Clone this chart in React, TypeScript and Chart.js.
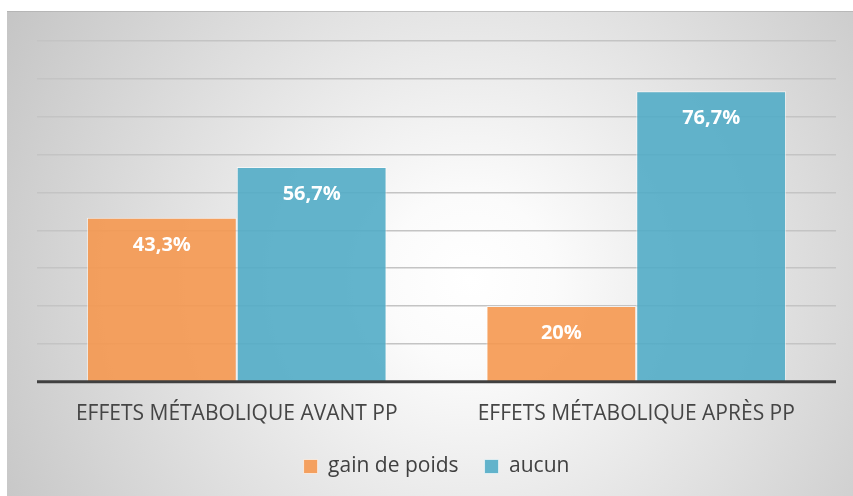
import React, { useEffect, useRef } from "react";
import { Chart, registerables } from "chart.js";

Chart.register(...registerables);

const categories: string[] = ["EFFETS MÉTABOLIQUE AVANT PP", "EFFETS MÉTABOLIQUE APRÈS PP"];
const seriesNames: string[] = ["gain de poids", "aucun"];
const gainDePoids: number[] = [43.3, 20];
const aucun: number[] = [56.7, 76.7];
const yMax = 90;
const yStep = 10;

const fmt = (v: number) => (Number.isInteger(v) ? String(v) : v.toFixed(1).replace(".", ",")) + "%";

const bgPlugin = {
  id: "bgPlugin",
  beforeDraw(chart: any) {
    const { ctx, width, height } = chart;
    ctx.save();
    ctx.fillStyle = "#ffffff";
    ctx.fillRect(0, 0, width, height);
    const g = ctx.createRadialGradient(470, 280, 0, 470, 280, 560);
    g.addColorStop(0, "#ffffff");
    g.addColorStop(0.15, "#fbfbfb");
    g.addColorStop(1, "#c2c2c2");
    ctx.fillStyle = g;
    ctx.fillRect(7, 11, width - 7, height - 11);
    ctx.strokeStyle = "rgba(170,170,170,0.6)";
    ctx.lineWidth = 1;
    ctx.beginPath();
    ctx.moveTo(7, 11.5);
    ctx.lineTo(width, 11.5);
    ctx.stroke();
    ctx.restore();
  },
  afterDatasetsDraw(chart: any) {
    const { ctx, chartArea } = chart;
    const yScale = chart.scales.y;
    const y0 = yScale.getPixelForValue(0);
    ctx.save();
    ctx.strokeStyle = "#404040";
    ctx.lineWidth = 3;
    ctx.beginPath();
    ctx.moveTo(chartArea.left, y0);
    ctx.lineTo(chartArea.right, y0);
    ctx.stroke();
    ctx.fillStyle = "#ffffff";
    ctx.font = "bold 20px 'Open Sans'";
    ctx.textAlign = "center";
    ctx.textBaseline = "middle";
    chart.data.datasets.forEach((ds: any, di: number) => {
      const meta = chart.getDatasetMeta(di);
      meta.data.forEach((el: any, i: number) => {
        ctx.fillText(fmt(ds.data[i]), el.x, el.y + 27);
      });
    });
    ctx.restore();
  },
};

export default function App() {
  const ref = useRef<HTMLCanvasElement | null>(null);
  useEffect(() => {
    if (!ref.current) return;
    const chart = new Chart(ref.current, {
      type: "bar",
      data: {
        labels: categories,
        datasets: [
          {
            label: seriesNames[0],
            data: gainDePoids,
            backgroundColor: "rgba(245,152,80,0.9)",
            borderColor: "rgba(255,255,255,0.6)",
            borderWidth: 1,
          },
          {
            label: seriesNames[1],
            data: aucun,
            backgroundColor: "rgba(82,172,199,0.9)",
            borderColor: "rgba(255,255,255,0.6)",
            borderWidth: 1,
          },
        ],
      },
      options: {
        animation: false,
        responsive: false,
        devicePixelRatio: 1,
        layout: { padding: { left: 37, right: 17, top: 41, bottom: 9 } },
        datasets: { bar: { categoryPercentage: 0.75, barPercentage: 1 } },
        scales: {
          x: {
            grid: { display: false, drawTicks: false },
            border: { display: false },
            ticks: {
              color: "#454545",
              font: { family: "'Open Sans'", size: 21 },
              padding: 20,
              maxRotation: 0,
            },
            afterFit: (scale: any) => {
              scale.height -= 17;
            },
          },
          y: {
            min: 0,
            max: yMax,
            ticks: { display: false, stepSize: yStep },
            grid: { color: "#c4c4c4", lineWidth: 1.5, drawTicks: false },
            border: { display: false },
          },
        },
        plugins: {
          legend: {
            position: "bottom",
            labels: {
              color: "#404040",
              font: { family: "'Open Sans'", size: 21 },
              boxWidth: 14,
              boxHeight: 14,
              padding: 26,
            },
          },
          tooltip: { enabled: false },
        },
      },
      plugins: [bgPlugin],
    });
    return () => chart.destroy();
  }, []);
  return (
    <div style={{ position: "absolute", left: 0, top: 0, width: 853, height: 496 }}>
      <canvas ref={ref} width={853} height={496} style={{ width: 853, height: 496 }} />
    </div>
  );
}
